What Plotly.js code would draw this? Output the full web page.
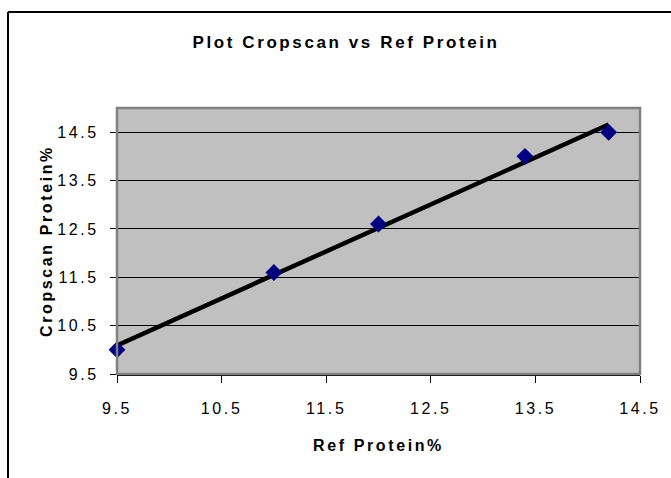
<!DOCTYPE html>
<html>
<head>
<meta charset="utf-8">
<script src="https://cdn.plot.ly/plotly-3.0.1.min.js"></script>
<style>
  html, body { margin: 0; padding: 0; background: #ffffff; }
  #chart { width: 671px; height: 478px; }
  .xtick text, .ytick text { letter-spacing: 2.6px; }
  .gtitle, .g-xtitle text, .g-ytitle text { letter-spacing: 2.6px; }
</style>
</head>
<body>
<div id="chart"></div>
<script>
// Data
const refProtein = [9.5, 11.0, 12.0, 13.4, 14.2];
const cropscanProtein = [10.0, 11.6, 12.6, 14.0, 14.5];
const tickValues = [9.5, 10.5, 11.5, 12.5, 13.5, 14.5];
const tickLabels = ["9.5", "10.5", "11.5", "12.5", "13.5", "14.5"];

// Linear trendline (least squares) computed from the data
function linearFit(xs, ys) {
  const n = xs.length;
  const mx = xs.reduce((a, b) => a + b, 0) / n;
  const my = ys.reduce((a, b) => a + b, 0) / n;
  let sxy = 0, sxx = 0;
  for (let i = 0; i < n; i++) { sxy += (xs[i] - mx) * (ys[i] - my); sxx += (xs[i] - mx) ** 2; }
  const slope = sxy / sxx;
  return { slope, intercept: my - slope * mx };
}
const fit = linearFit(refProtein, cropscanProtein);
const xMin = Math.min(...refProtein), xMax = Math.max(...refProtein);
const trendX = [xMin, xMax];
const trendY = trendX.map(x => fit.intercept + fit.slope * x);

const W = 671, H = 478;
const M = { l: 117, r: 31, t: 108, b: 104 };
const pw = W - M.l - M.r, ph = H - M.t - M.b;
const px = v => (v - M.l) / pw;
const py = v => (H - M.b - v) / ph;

const FONT = "Liberation Sans, Arial, sans-serif";

const traces = [
  {
    x: trendX, y: trendY, type: "scatter", mode: "lines",
    line: { color: "#000000", width: 4.5 }, hoverinfo: "skip", showlegend: false
  },
  {
    x: refProtein, y: cropscanProtein, type: "scatter", mode: "markers",
    marker: { symbol: "diamond", size: 13, color: "#000080", line: { width: 0 } },
    showlegend: false, cliponaxis: false
  }
];

const layout = {
  width: W, height: H,
  margin: M,
  paper_bgcolor: "#ffffff",
  plot_bgcolor: "#c0c0c0",
  font: { family: FONT, color: "#000000", size: 16 },
  title: {
    text: "<b>Plot Cropscan vs Ref Protein</b>",
    font: { family: FONT, size: 17, color: "#000000" },
    xref: "paper", x: px(346), xanchor: "center",
    yref: "container", y: 1 - 42 / H, yanchor: "middle"
  },
  xaxis: {
    range: [9.5, 14.5],
    tickmode: "array", tickvals: tickValues, ticktext: tickLabels,
    ticks: "outside", ticklen: 7, tickwidth: 1, tickcolor: "#000000",
    ticklabelstandoff: 12,
    showgrid: false, zeroline: false,
    showline: true, linecolor: "#000000", linewidth: 2,
    tickfont: { family: FONT, size: 16, color: "#000000" },
    title: { text: "<b>Ref Protein%</b>", font: { family: FONT, size: 16, color: "#000000" }, standoff: 24 }
  },
  yaxis: {
    range: [9.5, 15],
    tickmode: "array", tickvals: tickValues, ticktext: tickLabels,
    ticks: "outside", ticklen: 6, tickwidth: 1, tickcolor: "#000000",
    ticklabelstandoff: 8,
    showgrid: true, gridcolor: "#000000", gridwidth: 1,
    zeroline: false, showline: false,
    tickfont: { family: FONT, size: 16, color: "#000000" },
    title: { text: "<b>Cropscan Protein%</b>", font: { family: FONT, size: 16, color: "#000000" }, standoff: 0 }
  },
  shapes: [
    { type: "rect", xref: "paper", yref: "paper", x0: 0, x1: 1, y0: 0, y1: 1,
      line: { color: "#808080", width: 2.5 }, layer: "above" },
    { type: "line", xref: "paper", yref: "paper", x0: px(8), x1: px(W + 20), y0: py(12), y1: py(12),
      line: { color: "#000000", width: 2 } },
    { type: "line", xref: "paper", yref: "paper", x0: px(8), x1: px(8), y0: py(12), y1: py(H + 20),
      line: { color: "#000000", width: 2 } }
  ]
};

Plotly.newPlot("chart", traces, layout, { displayModeBar: false, staticPlot: true });
</script>
</body>
</html>
